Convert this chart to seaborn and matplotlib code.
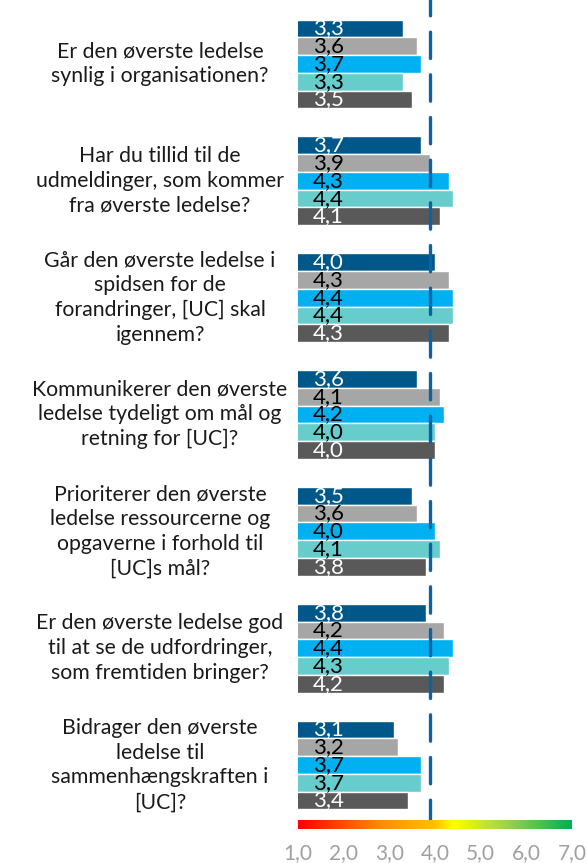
import numpy as np
import pandas as pd
import matplotlib.pyplot as plt
import matplotlib.transforms as mtransforms
from matplotlib.colors import LinearSegmentedColormap
import seaborn as sns

# Spoergsmaal (kategorier)
questions = [
    "Er den øverste ledelse\nsynlig i organisationen?",
    "Har du tillid til de\nudmeldinger, som kommer\nfra øverste ledelse?",
    "Går den øverste ledelse i\nspidsen for de\nforandringer, [UC] skal\nigennem?",
    "Kommunikerer den øverste\nledelse tydeligt om mål og\nretning for [UC]?",
    "Prioriterer den øverste\nledelse ressourcerne og\nopgaverne i forhold til\n[UC]s mål?",
    "Er den øverste ledelse god\ntil at se de udfordringer,\nsom fremtiden bringer?",
    "Bidrager den øverste\nledelse til\nsammenhængskraften i\n[UC]?",
]

# Serier (5 bjælker pr. spørgsmål)
series = ["Serie 1", "Serie 2", "Serie 3", "Serie 4", "Serie 5"]
serie_1 = [3.3, 3.7, 4.0, 3.6, 3.5, 3.8, 3.1]
serie_2 = [3.6, 3.9, 4.3, 4.1, 3.6, 4.2, 3.2]
serie_3 = [3.7, 4.3, 4.4, 4.2, 4.0, 4.4, 3.7]
serie_4 = [3.3, 4.4, 4.4, 4.0, 4.1, 4.3, 3.7]
serie_5 = [3.5, 4.1, 4.3, 4.0, 3.8, 4.2, 3.4]

reference = 3.9
tick_values = [1, 2, 3, 4, 5, 6, 7]
tick_labels = ["1,0", "2,0", "3,0", "4,0", "5,0", "6,0", "7,0"]

colors = ["#00578A", "#A6A6A6", "#00B0F0", "#66CCCC", "#595959"]
label_colors = ["white", "black", "black", "black", "white"]

rows = []
for name, vals in zip(series, [serie_1, serie_2, serie_3, serie_4, serie_5]):
    for q, v in zip(questions, vals):
        rows.append({"question": q, "serie": name, "value": v})
df = pd.DataFrame(rows)

sns.set_style("white")
plt.rcParams["font.family"] = ["Lato", "DejaVu Sans"]

W, H = 587, 863
fig = plt.figure(figsize=(W / 100, H / 100), dpi=100)
ax = fig.add_axes([298 / W, 1 - 826 / H, 274 / W, 826 / H])

sns.barplot(
    data=df, y="question", x="value", hue="serie",
    palette=colors, orient="h", width=0.76, saturation=1,
    legend=False, ax=ax,
)

ax.set_xlim(1, 7)
ax.set_ylim(6.522, -0.548)
ax.set_xlabel("")
ax.set_ylabel("")
ax.set_xticks([])
ax.set_yticks([])
for s in ax.spines.values():
    s.set_visible(False)

# Værdier i bjælkerne
for cont, vals, lc in zip(ax.containers, [serie_1, serie_2, serie_3, serie_4, serie_5], label_colors):
    for bar, v in zip(cont, vals):
        ax.text(1.32, bar.get_y() + bar.get_height() / 2, f"{v:.1f}".replace(".", ","),
                color=lc, fontsize=16, ha="left", va="center", zorder=4)

# Referencelinje
ax.axvline(reference, color="#0B63A0", lw=2.4, dashes=(7.9, 4.9),
           dash_capstyle="round", zorder=5)

# Spørgsmål til venstre
trans = mtransforms.blended_transform_factory(fig.transFigure, ax.transData)
for i, q in enumerate(questions):
    ax.text(160 / W, i, q, transform=trans, ha="center", va="center",
            fontsize=15.3, linespacing=1.3, color="#1a1a1a")

# Farveskala
cmap = LinearSegmentedColormap.from_list(
    "skala",
    [(0.0, "#FF0000"), (0.3, "#FF8C00"), (0.5, "#FFC000"), (0.567, "#FFFF00"),
     (0.78, "#92D050"), (1.0, "#00B050")],
)
cax = fig.add_axes([298 / W, 1 - 829 / H, 274 / W, 9 / H])
cax.imshow(np.linspace(1, 7, 256)[None, :], aspect="auto", cmap=cmap, extent=[1, 7, 0, 1])
cax.set_xlim(1, 7)
cax.set_xticks(tick_values)
cax.set_xticklabels(tick_labels, color="#A0A0A0", fontsize=15)
cax.set_yticks([])
cax.tick_params(axis="x", length=0, pad=10)
for s in cax.spines.values():
    s.set_visible(False)

fig.savefig("out.png", dpi=100)
